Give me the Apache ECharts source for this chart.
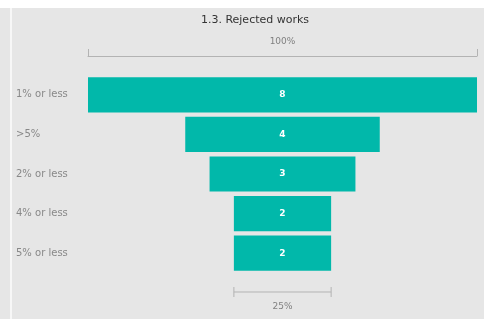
<!DOCTYPE html>
<html>
<head>
<meta charset="utf-8">
<script src="https://cdn.jsdelivr.net/npm/echarts@6/dist/echarts.min.js"></script>
<style>
  html, body { margin: 0; padding: 0; background: #fff; }
  #chart { width: 484px; height: 319px; }
</style>
</head>
<body>
<div id="chart"></div>
<script>
// funnel stages, top to bottom
const categories = ['1% or less', '>5%', '2% or less', '4% or less', '5% or less']
const values = [8, 4, 3, 2, 2]
const topLabel = '100%'
const bottomLabel = '25%'

const maxVal = Math.max(...values)
// invisible spacer so every bar is centred
const spacer = values.map(v => (maxVal - v) / 2)

const teal = '#01b8aa'
const axisGrey = '#b3b3b3'
const font = 'DejaVu Sans'

let myChart = echarts.init(document.getElementById('chart'))

myChart.setOption({
  backgroundColor: '#e6e6e6',
  animation: false,
  title: {
    text: '1.3. Rejected works',
    left: 250,
    top: 10,
    textAlign: 'center',
    textStyle: { fontFamily: font, fontSize: 11, fontWeight: 'normal', color: '#333' }
  },
  grid: { left: 88, right: 7, top: 75, bottom: 46 },
  xAxis: {
    type: 'value',
    position: 'top',
    min: 0,
    max: maxVal,
    interval: maxVal,
    offset: 19,
    name: topLabel,
    nameLocation: 'middle',
    nameGap: 10,
    nameTextStyle: { fontFamily: font, fontSize: 9, color: '#808080' },
    axisLine: { show: true, lineStyle: { color: axisGrey, width: 1 } },
    axisTick: { show: true, length: 7, lineStyle: { color: axisGrey } },
    axisLabel: { show: false },
    splitLine: { show: false }
  },
  yAxis: {
    type: 'category',
    data: categories,
    inverse: true,
    axisLine: { show: false },
    axisTick: { show: false },
    axisLabel: {
      align: 'left',
      margin: 72,
      fontFamily: font,
      fontSize: 10,
      color: '#888'
    }
  },
  series: [
    {
      type: 'bar',
      stack: 'f',
      data: spacer,
      itemStyle: { color: 'transparent' },
      silent: true
    },
    {
      type: 'bar',
      stack: 'f',
      data: values,
      barCategoryGap: '11%',
      itemStyle: { color: teal },
      label: {
        show: true,
        position: 'inside',
        color: '#fff',
        fontFamily: font,
        fontSize: 9,
        fontWeight: 'bold'
      }
    }
  ]
})

// bottom bracket under the last stage, placed through the x scale
const last = values.length - 1
const x0 = myChart.convertToPixel({ xAxisIndex: 0 }, spacer[last])
const x1 = myChart.convertToPixel({ xAxisIndex: 0 }, spacer[last] + values[last])
const by = 292

myChart.setOption({
  graphic: [
    { type: 'rect', shape: { x: 0, y: 0, width: 484, height: 8 }, style: { fill: '#fff' }, z: -1 },
    { type: 'rect', shape: { x: 10, y: 8, width: 2, height: 311 }, style: { fill: '#f7f7f7' }, z: -1 },
    { type: 'line', shape: { x1: x0, y1: by, x2: x1, y2: by }, style: { stroke: axisGrey, lineWidth: 1 } },
    { type: 'line', shape: { x1: x0, y1: by - 5, x2: x0, y2: by + 5 }, style: { stroke: axisGrey, lineWidth: 1 } },
    { type: 'line', shape: { x1: x1, y1: by - 5, x2: x1, y2: by + 5 }, style: { stroke: axisGrey, lineWidth: 1 } },
    {
      type: 'text',
      x: (x0 + x1) / 2,
      y: by + 15,
      style: {
        text: bottomLabel,
        align: 'center',
        verticalAlign: 'middle',
        fontFamily: font,
        fontSize: 9,
        fill: '#808080'
      }
    }
  ]
})

window.onresize = function () {
  myChart.resize()
}
</script>
</body>
</html>
